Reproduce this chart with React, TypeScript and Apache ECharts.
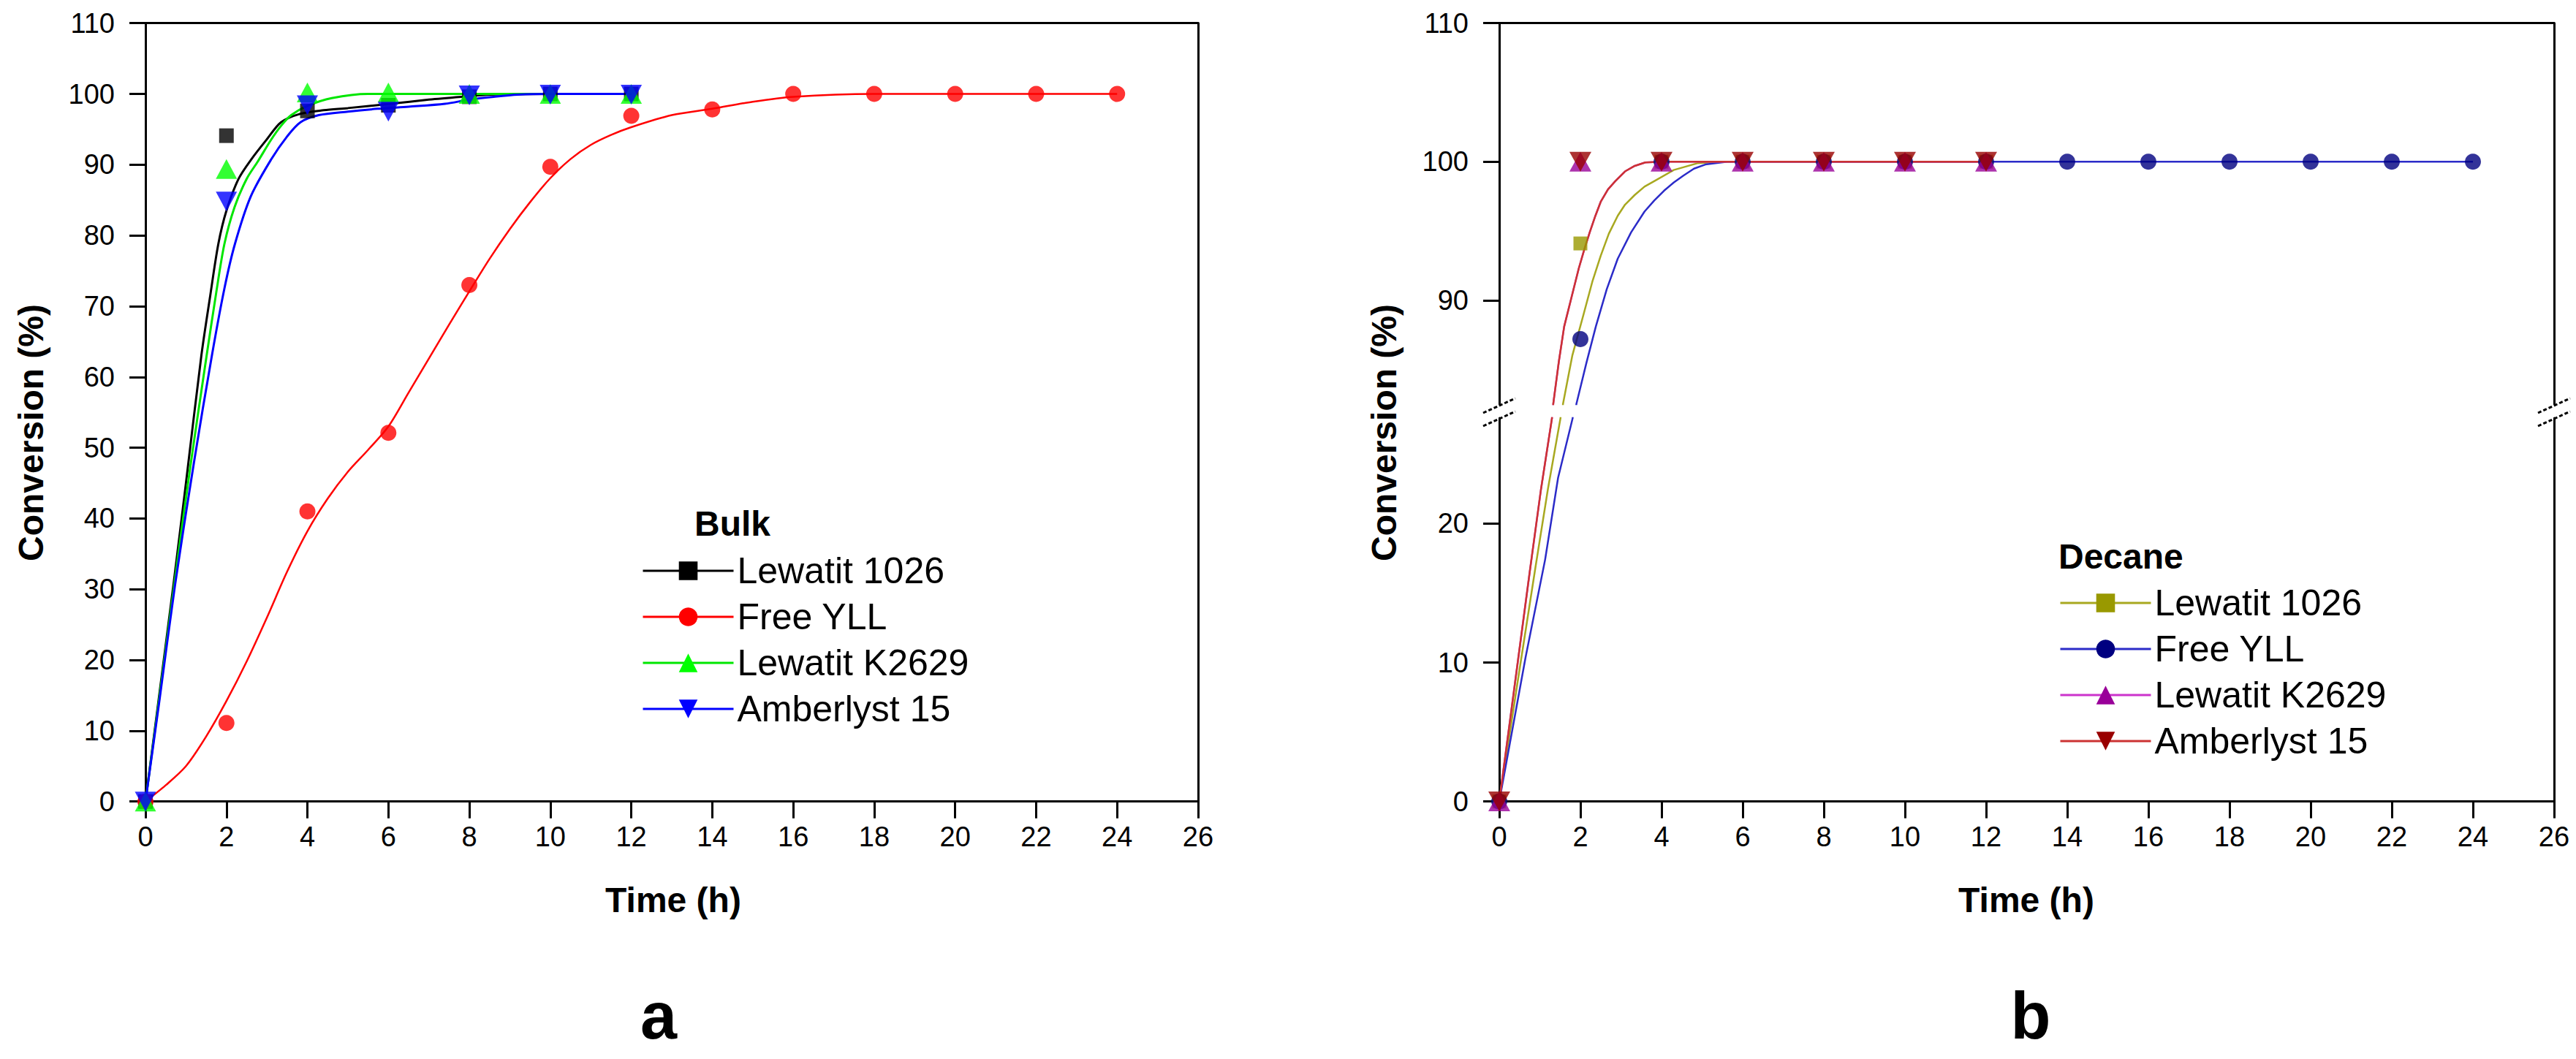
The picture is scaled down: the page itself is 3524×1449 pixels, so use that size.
import React, { useEffect, useRef } from "react";
import * as echarts from "echarts";

// ---------------- Panel a (Bulk) : measured points ----------------
const bulkResinTime = [0, 2, 4, 6, 8, 10, 12];
const bulkYllTime = [0, 2, 4, 6, 8, 10, 12, 14, 16, 18, 20, 22, 24];
const bulkLewatit1026 = [0, 94.1, 97.6, 98.4, 99.6, 100, 100];
const bulkFreeYLL = [0, 11.1, 41.0, 52.1, 73.0, 89.7, 96.9, 97.8, 100, 100, 100, 100, 100];
const bulkLewatitK2629 = [0, 89.4, 100.2, 100.2, 100, 100, 100];
const bulkAmberlyst15 = [0, 84.8, 98.4, 97.5, 99.8, 99.9, 99.9];

// ---------------- Panel a : fitted curves ----------------
const bulkFit1026T = [0, 0.35, 0.69, 1.0, 1.38, 1.6, 1.8, 2.0, 2.3, 2.62, 3.0, 3.35, 3.83, 4.4, 5, 6.05, 7, 7.8, 8.5, 10, 12];
const bulkFit1026Y = [0, 15.5, 30.6, 45, 63, 71.5, 78.8, 83.5, 88, 90.8, 93.6, 96, 97.2, 97.7, 98, 98.6, 99.2, 99.6, 99.9, 100, 100];
const bulkFitYllT = [0, 0.5, 1, 1.5, 2, 2.5, 3, 3.5, 4, 4.5, 5, 5.5, 6, 6.5, 7, 7.5, 8, 8.5, 9, 9.5, 10, 10.5, 11, 11.5, 12, 13, 14, 15, 16, 18, 20, 22, 24];
const bulkFitYllY = [0, 2.3, 5, 9.2, 14.2, 19.8, 26, 32.5, 38.2, 42.8, 46.6, 49.7, 53, 57.8, 62.6, 67.4, 72.1, 76.7, 80.9, 84.7, 88.1, 90.8, 92.8, 94.2, 95.3, 97, 97.9, 98.9, 99.6, 100, 100, 100, 100];
const bulkFitK2629T = [0, 0.35, 0.71, 1.1, 1.51, 1.75, 1.95, 2.2, 2.5, 2.78, 3.1, 3.35, 3.6, 4.0, 4.6, 5.5, 12];
const bulkFitK2629Y = [0, 15, 30.6, 47, 63, 72, 78.8, 84, 88, 90.5, 93.5, 95.5, 97, 98.3, 99.4, 100, 100];
const bulkFitAmbT = [0, 0.35, 0.73, 1.2, 1.64, 1.95, 2.21, 2.6, 3.1, 3.5, 3.83, 4.28, 5, 5.73, 6.5, 7.4, 8, 8.6, 9.2, 10, 12];
const bulkFitAmbY = [0, 14.5, 30.6, 48, 63, 72.5, 78.8, 85.5, 90.7, 94, 96, 97, 97.5, 97.9, 98.2, 98.6, 99.2, 99.6, 99.9, 100, 100];

// ---------------- Panel b (Decane) : measured points ----------------
const decResinTime = [0, 2, 4, 6, 8, 10, 12];
const decYllTime = [0, 2, 4, 6, 8, 10, 12, 14, 16, 18, 20, 22, 24];
const decLewatit1026 = [0, 94.1, 100, 100, 100, 100, 100];
const decFreeYLL = [0, 87.2, 100, 100, 100, 100, 100, 100, 100, 100, 100, 100, 100];
const decLewatitK2629 = [0, 100, 100, 100, 100, 100, 100];
const decAmberlyst15 = [0, 100, 100, 100, 100, 100, 100];

// ---------------- Panel b : fitted curves ----------------
const decFit1026T = [0, 0.5, 0.9, 1.2, 1.51, 1.57, 1.8, 2.08, 2.3, 2.5, 2.7, 2.92, 3.1, 3.34, 3.58, 3.82, 4.3, 4.9, 5.5, 12];
const decFit1026Y = [0, 9.5, 17, 22.5, 27.6, 82.5, 86, 89, 91.4, 93.2, 94.8, 96.1, 96.9, 97.6, 98.2, 98.6, 99.4, 99.9, 100, 100];
const decFitYllT = [0, 0.65, 1.13, 1.45, 1.81, 1.9, 2.15, 2.38, 2.65, 2.92, 3.25, 3.58, 3.82, 4.06, 4.3, 4.54, 4.8, 5.08, 5.62, 24];
const decFitYllY = [0, 10.4, 17.4, 23.3, 27.6, 82.5, 85.5, 88.1, 90.8, 93, 94.9, 96.4, 97.2, 97.9, 98.5, 99, 99.5, 99.8, 100, 100];
const decFitK2629T = [0, 0.25, 0.5, 0.75, 1.03, 1.3, 1.33, 1.47, 1.6, 1.78, 1.96, 2.1, 2.23, 2.37, 2.5, 2.68, 2.86, 3.1, 3.34, 3.6, 4, 12];
const decFitK2629Y = [0, 5.5, 11, 16.5, 22.5, 27.6, 82.5, 85.6, 88.1, 90.2, 92.3, 93.7, 94.9, 96.1, 97.1, 98, 98.6, 99.3, 99.7, 99.95, 100, 100];
const decFitAmbT = [0, 0.25, 0.5, 0.75, 1.03, 1.3, 1.33, 1.47, 1.6, 1.78, 1.96, 2.1, 2.23, 2.37, 2.5, 2.68, 2.86, 3.1, 3.34, 3.6, 4, 12];
const decFitAmbY = [0, 5.5, 11, 16.5, 22.5, 27.6, 82.5, 85.6, 88.1, 90.2, 92.3, 93.7, 94.9, 96.1, 97.1, 98, 98.6, 99.3, 99.7, 99.95, 100, 100];

// ---------------- Axis ticks ----------------
const topTicksB = [90, 100, 110];
const bottomTicksB = [0, 10, 20];

const seriesNames = ["Lewatit 1026", "Free YLL", "Lewatit K2629", "Amberlyst 15"];

const FONT = "'Liberation Sans', Arial, Helvetica, sans-serif";
const DOWN_TRI = "path://M0,0L10,0L5,10Z";

const zip = (xs: number[], ys: number[]) => xs.map((x, i) => [x, ys[i]]);

const lineW = { color: "#000", width: 3 };

function mainXAxis(gridIndex: number) {
  return {
    type: "value",
    gridIndex,
    min: 0,
    max: 26,
    interval: 2,
    position: "bottom",
    axisLine: { show: true, onZero: false, lineStyle: lineW },
    axisTick: { show: true, inside: false, length: 23, lineStyle: lineW },
    axisLabel: { show: true, fontSize: 38, color: "#000", margin: 29, fontFamily: FONT },
    splitLine: { show: false },
  };
}
function frameXAxis(gridIndex: number) {
  return {
    type: "value",
    gridIndex,
    min: 0,
    max: 26,
    position: "top",
    axisLine: { show: true, onZero: false, lineStyle: lineW },
    axisTick: { show: false },
    axisLabel: { show: false },
    splitLine: { show: false },
  };
}
function frameYAxis(gridIndex: number, min: number, max: number) {
  return {
    type: "value",
    gridIndex,
    min,
    max,
    position: "right",
    axisLine: { show: true, onZero: false, lineStyle: lineW },
    axisTick: { show: false },
    axisLabel: { show: false },
    splitLine: { show: false },
  };
}
const yLabel = { show: true, fontSize: 38, color: "#000", margin: 42, fontFamily: FONT };
const yTick = { show: true, inside: false, length: 22, lineStyle: lineW };

type Mat = {
  name: string;
  marker: string;
  line: string;
  symbol: string;
  size: number | number[];
};

const bulkMats: Mat[] = [
  { name: seriesNames[0], marker: "#000000", line: "#000000", symbol: "rect", size: 20 },
  { name: seriesNames[1], marker: "#ff0000", line: "#ff0000", symbol: "circle", size: 22 },
  { name: seriesNames[2], marker: "#00ff00", line: "#00e600", symbol: "triangle", size: [29, 27] },
  { name: seriesNames[3], marker: "#0000ff", line: "#0000ff", symbol: DOWN_TRI, size: [29, 27] },
];
const decMats: Mat[] = [
  { name: seriesNames[0], marker: "#999900", line: "#a8a820", symbol: "rect", size: 19 },
  { name: seriesNames[1], marker: "#000080", line: "#2b2bc8", symbol: "circle", size: 22 },
  { name: seriesNames[2], marker: "#990099", line: "#cc33cc", symbol: "triangle", size: [30, 27] },
  { name: seriesNames[3], marker: "#990000", line: "#cc3333", symbol: DOWN_TRI, size: [30, 27] },
];

const bulkPts = [
  zip(bulkResinTime, bulkLewatit1026),
  zip(bulkYllTime, bulkFreeYLL),
  zip(bulkResinTime, bulkLewatitK2629),
  zip(bulkResinTime, bulkAmberlyst15),
];
const bulkFits = [
  zip(bulkFit1026T, bulkFit1026Y),
  zip(bulkFitYllT, bulkFitYllY),
  zip(bulkFitK2629T, bulkFitK2629Y),
  zip(bulkFitAmbT, bulkFitAmbY),
];
const decPts = [
  zip(decResinTime, decLewatit1026),
  zip(decYllTime, decFreeYLL),
  zip(decResinTime, decLewatitK2629),
  zip(decResinTime, decAmberlyst15),
];
const decFits = [
  zip(decFit1026T, decFit1026Y),
  zip(decFitYllT, decFitYllY),
  zip(decFitK2629T, decFitK2629Y),
  zip(decFitAmbT, decFitAmbY),
];

function buildSeries() {
  const out: any[] = [];
  // panel a lines
  bulkMats.forEach((m, i) => {
    out.push({
      type: "line",
      name: m.name + "|a",
      xAxisIndex: 0,
      yAxisIndex: 0,
      data: bulkFits[i],
      showSymbol: false,
      symbol: m.symbol,
      smooth: 0.3,
      silent: true,
      z: 2,
      itemStyle: { color: m.marker },
      lineStyle: { color: m.line, width: i === 1 ? 2.5 : 3 },
    });
  });
  bulkMats.forEach((m, i) => {
    out.push({
      type: "scatter",
      name: "pts " + m.name + "|a",
      xAxisIndex: 0,
      yAxisIndex: 0,
      data: bulkPts[i],
      symbol: m.symbol,
      symbolSize: m.size,
      silent: true,
      z: 3,
      itemStyle: { color: m.marker },
    });
  });
  // panel b, in both halves of the broken axis
  [
    { x: 2, y: 2, tag: "b" },
    { x: 3, y: 4, tag: "b2" },
  ].forEach((half) => {
    decMats.forEach((m, i) => {
      out.push({
        type: "line",
        name: m.name + "|" + half.tag,
        xAxisIndex: half.x,
        yAxisIndex: half.y,
        data: decFits[i],
        showSymbol: false,
        symbol: m.symbol,
        smooth: false,
        silent: true,
        clip: true,
        z: 2,
        itemStyle: { color: m.marker },
        lineStyle: { color: m.line, width: 2.5 },
      });
    });
    decMats.forEach((m, i) => {
      out.push({
        type: "scatter",
        name: "pts " + m.name + "|" + half.tag,
        xAxisIndex: half.x,
        yAxisIndex: half.y,
        data: decPts[i],
        symbol: m.symbol,
        symbolSize: m.size,
        silent: true,
        clip: true,
        z: 3,
        itemStyle: { color: m.marker },
      });
    });
  });
  return out;
}

function legendFor(mats: Mat[], tag: string, left: number, top: number) {
  return {
    orient: "vertical",
    left,
    top,
    padding: 0,
    itemWidth: 124,
    itemHeight: 32,
    itemGap: 13,
    selectedMode: false,
    formatter: (n: string) => n.split("|")[0],
    textStyle: { fontSize: 50, color: "#000", fontFamily: FONT },
    data: mats.map((m) => ({
      name: m.name + "|" + tag,
      itemStyle: { color: m.marker, borderWidth: 0 },
      lineStyle: { color: m.line, width: 3 },
    })),
  };
}

function txt(text: string, x: number, y: number, size: number, bold: boolean, align: string, rotation = 0) {
  return {
    type: "text",
    x,
    y,
    rotation,
    silent: true,
    style: {
      text,
      fill: "#000",
      font: `${bold ? "bold " : ""}${size}px ${FONT}`,
      textAlign: align,
      align,
      textVerticalAlign: "middle",
      verticalAlign: "middle",
    },
  };
}

function breakMarks(x: number) {
  const st = { stroke: "#000", lineWidth: 3, lineDash: [5, 3] };
  return [
    { type: "line", silent: true, shape: { x1: x - 22, y1: 565, x2: x + 22, y2: 545 }, style: st },
    { type: "line", silent: true, shape: { x1: x - 22, y1: 583, x2: x + 22, y2: 563 }, style: st },
  ];
}

const option: any = {
  animation: false,
  backgroundColor: "#ffffff",
  textStyle: { fontFamily: FONT },
  grid: [
    { left: 199, top: 31.7, width: 1440, height: 1065, show: false },
    { left: 2051, top: 31.7, width: 1443, height: 521.3, show: false },
    { left: 2051, top: 572, width: 1443, height: 524.6, show: false },
  ],
  xAxis: [mainXAxis(0), frameXAxis(0), frameXAxis(1), mainXAxis(2)],
  yAxis: [
    {
      type: "value",
      gridIndex: 0,
      min: 0,
      max: 110,
      interval: 10,
      position: "left",
      axisLine: { show: true, onZero: false, lineStyle: lineW },
      axisTick: yTick,
      axisLabel: yLabel,
      splitLine: { show: false },
    },
    frameYAxis(0, 0, 110),
    {
      type: "value",
      gridIndex: 1,
      min: 82.5,
      max: 110,
      position: "left",
      axisLine: { show: true, onZero: false, lineStyle: lineW },
      axisTick: { ...yTick, customValues: topTicksB },
      axisLabel: { ...yLabel, customValues: topTicksB },
      splitLine: { show: false },
    },
    frameYAxis(1, 82.5, 110),
    {
      type: "value",
      gridIndex: 2,
      min: 0,
      max: 27.6,
      position: "left",
      axisLine: { show: true, onZero: false, lineStyle: lineW },
      axisTick: { ...yTick, customValues: bottomTicksB },
      axisLabel: { ...yLabel, customValues: bottomTicksB },
      splitLine: { show: false },
    },
    frameYAxis(2, 0, 27.6),
  ],
  legend: [legendFor(bulkMats, "a", 878, 756), legendFor(decMats, "b", 2817, 800)],
  graphic: [
    txt("Conversion (%)", 42, 592, 48, true, "center", Math.PI / 2),
    txt("Conversion (%)", 1893, 592, 48, true, "center", Math.PI / 2),
    txt("Time (h)", 921, 1231, 48, true, "center"),
    txt("Time (h)", 2772, 1231, 48, true, "center"),
    txt("Bulk", 950, 716, 48, true, "left"),
    txt("Decane", 2816, 761, 48, true, "left"),
    txt("a", 901, 1390, 90, true, "center"),
    txt("b", 2778, 1390, 90, true, "center"),
    ...breakMarks(2051),
    ...breakMarks(3494),
  ],
  series: buildSeries(),
};

export default function App() {
  const ref = useRef<HTMLDivElement>(null);
  useEffect(() => {
    document.body.style.margin = "0";
    const chart = echarts.init(ref.current as HTMLDivElement, undefined, { renderer: "svg" });
    chart.setOption(option);
    return () => {
      chart.dispose();
    };
  }, []);
  return <div ref={ref} style={{ width: 3524, height: 1449, background: "#fff" }} />;
}
